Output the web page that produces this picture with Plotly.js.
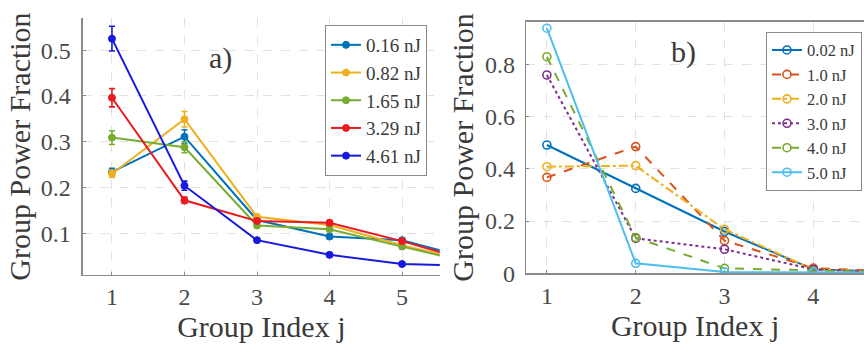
<!DOCTYPE html>
<html>
<head>
<meta charset="utf-8">
<script src="https://cdn.plot.ly/plotly-3.0.1.min.js"></script>
<style>
html,body{margin:0;padding:0;background:#fff;}
#chart{width:864px;height:347px;}
#chart text{font-family:"Liberation Serif", serif !important;}
</style>
</head>
<body>
<div id="chart"></div>
<script>
// ---- Panel a) data ----
const groupIndexA = [1, 2, 3, 4, 5, 6];
const seriesNamesA = ['0.16 nJ', '0.82 nJ', '1.65 nJ', '3.29 nJ', '4.61 nJ'];
const valuesA_016 = [0.234, 0.311, 0.129, 0.093, 0.085, 0.043];
const valuesA_082 = [0.230, 0.349, 0.136, 0.118, 0.074, 0.036];
const valuesA_165 = [0.309, 0.288, 0.117, 0.109, 0.071, 0.034];
const valuesA_329 = [0.396, 0.172, 0.127, 0.123, 0.083, 0.037];
const valuesA_461 = [0.525, 0.204, 0.085, 0.053, 0.033, 0.029];
const errA_016 = [0.008, 0.015, 0.005, 0.005, 0.004, 0.004];
const errA_082 = [0.008, 0.017, 0.005, 0.005, 0.004, 0.004];
const errA_165 = [0.015, 0.012, 0.005, 0.005, 0.004, 0.004];
const errA_329 = [0.020, 0.007, 0.005, 0.005, 0.004, 0.004];
const errA_461 = [0.027, 0.010, 0.004, 0.004, 0.003, 0.003];
const colorsA = ['#0072BD', '#EDB120', '#77AC30', '#EA1A1E', '#1818E0'];
const ticksA = [1, 2, 3, 4, 5];
const yticksA = [0.1, 0.2, 0.3, 0.4, 0.5];

// ---- Panel b) data ----
const groupIndexB = [1, 2, 3, 4, 5];
const seriesNamesB = ['0.02 nJ', '1.0 nJ', '2.0 nJ', '3.0 nJ', '4.0 nJ', '5.0 nJ'];
const valuesB_002 = [0.491, 0.325, 0.160, 0.015, 0.004];
const valuesB_10  = [0.367, 0.485, 0.125, 0.020, 0.005];
const valuesB_20  = [0.408, 0.412, 0.168, 0.015, 0.004];
const valuesB_30  = [0.759, 0.134, 0.092, 0.015, 0.003];
const valuesB_40  = [0.829, 0.137, 0.019, 0.008, 0.003];
const valuesB_50  = [0.938, 0.038, 0.005, 0.005, 0.002];
const colorsB = ['#0072BD', '#D95319', '#EDB120', '#7E2F8E', '#77AC30', '#4DBEEE'];
const dashesB = ['solid', 'dash', 'dashdot', 'dot', 'dash', 'solid'];
const ticksB = [1, 2, 3, 4];
const yticksB = [0, 0.2, 0.4, 0.6, 0.8];

const FONT = 'Liberation Serif';
const TXT = '#3a3a3a';

const valsA = [valuesA_016, valuesA_082, valuesA_165, valuesA_329, valuesA_461];
const errsA = [errA_016, errA_082, errA_165, errA_329, errA_461];
const valsB = [valuesB_002, valuesB_10, valuesB_20, valuesB_30, valuesB_40, valuesB_50];

const traces = [];
valsA.forEach((v, i) => {
  traces.push({
    x: groupIndexA, y: v, name: seriesNamesA[i], type: 'scatter', mode: 'lines+markers',
    xaxis: 'x', yaxis: 'y', legend: 'legend',
    line: {color: colorsA[i], width: 2},
    marker: {color: colorsA[i], size: 7, symbol: 'circle', line: {color: colorsA[i], width: 1}},
    error_y: {type: 'data', array: errsA[i], visible: true, color: colorsA[i], thickness: 1.6, width: 3},
    cliponaxis: true
  });
});
valsB.forEach((v, i) => {
  traces.push({
    x: groupIndexB, y: v, name: seriesNamesB[i], type: 'scatter', mode: 'lines+markers',
    xaxis: 'x2', yaxis: 'y2', legend: 'legend2',
    line: {color: colorsB[i], width: 2, dash: dashesB[i]},
    marker: {color: colorsB[i], size: 8, symbol: 'circle-open', line: {color: colorsB[i], width: 1.6}},
    cliponaxis: true
  });
});

function axisBase() {
  return {
    showline: true, linecolor: '#8a8a8a', linewidth: 1.5,
    showgrid: true, gridcolor: '#e2e2e2', griddash: 'dash', gridwidth: 1,
    zeroline: false, ticks: 'inside', ticklen: 3, tickcolor: '#8a8a8a',
    tickfont: {family: FONT, size: 24, color: '#4a4a4a'}
  };
}

const layout = {
  width: 864, height: 347,
  margin: {l: 0, r: 0, t: 0, b: 0},
  paper_bgcolor: '#fff', plot_bgcolor: '#fff',
  showlegend: true,
  font: {family: FONT, color: TXT, size: 20},
  xaxis: Object.assign(axisBase(), {
    domain: [0.096, 0.509], range: [0.6, 5.52], tickvals: ticksA, ticktext: ticksA.map(String),
    anchor: 'y', mirror: false,
    title: {text: 'Group Index j', font: {family: FONT, size: 30, color: TXT}, standoff: 2}
  }),
  yaxis: Object.assign(axisBase(), {
    domain: [0.2075, 0.948], range: [0.009, 0.57], tickvals: yticksA, ticktext: yticksA.map(String),
    anchor: 'x', mirror: false, ticklabelstandoff: 6,
    title: {text: 'Group Power Fraction', font: {family: FONT, size: 30, color: TXT}, standoff: 1}
  }),
  xaxis2: Object.assign(axisBase(), {
    domain: [0.609, 1.0], range: [0.767, 4.57], tickvals: ticksB, ticktext: ticksB.map(String),
    anchor: 'y2', mirror: true,
    title: {text: 'Group Index j', font: {family: FONT, size: 30, color: TXT}, standoff: 2}
  }),
  yaxis2: Object.assign(axisBase(), {
    domain: [0.2124, 0.9375], range: [0, 0.963], tickvals: yticksB, ticktext: yticksB.map(String),
    anchor: 'x2', mirror: true, ticklabelstandoff: 5,
    title: {text: 'Group Power Fraction', font: {family: FONT, size: 30, color: TXT}, standoff: 2}
  }),
  legend: {
    x: 325/864, y: 1 - 25/347, xanchor: 'left', yanchor: 'top', xref: 'paper', yref: 'paper',
    bgcolor: '#fff', bordercolor: '#8a8a8a', borderwidth: 1,
    font: {family: FONT, size: 19, color: TXT}, tracegroupgap: 0, itemwidth: 30
  },
  legend2: {
    x: 766/864, y: 1 - 31.7/347, xanchor: 'left', yanchor: 'top', xref: 'paper', yref: 'paper',
    bgcolor: '#fff', bordercolor: '#8a8a8a', borderwidth: 1,
    font: {family: FONT, size: 16.5, color: TXT}, tracegroupgap: 0, itemwidth: 30
  },
  annotations: [
    {text: 'a)', xref: 'paper', yref: 'paper', x: 220/864, y: 1 - 58/347, xanchor: 'center', yanchor: 'middle',
     showarrow: false, font: {family: FONT, size: 30, color: TXT}},
    {text: 'b)', xref: 'paper', yref: 'paper', x: 683/864, y: 1 - 52/347, xanchor: 'center', yanchor: 'middle',
     showarrow: false, font: {family: FONT, size: 30, color: TXT}}
  ]
};

Plotly.newPlot('chart', traces, layout, {displayModeBar: false, staticPlot: true});
</script>
</body>
</html>
